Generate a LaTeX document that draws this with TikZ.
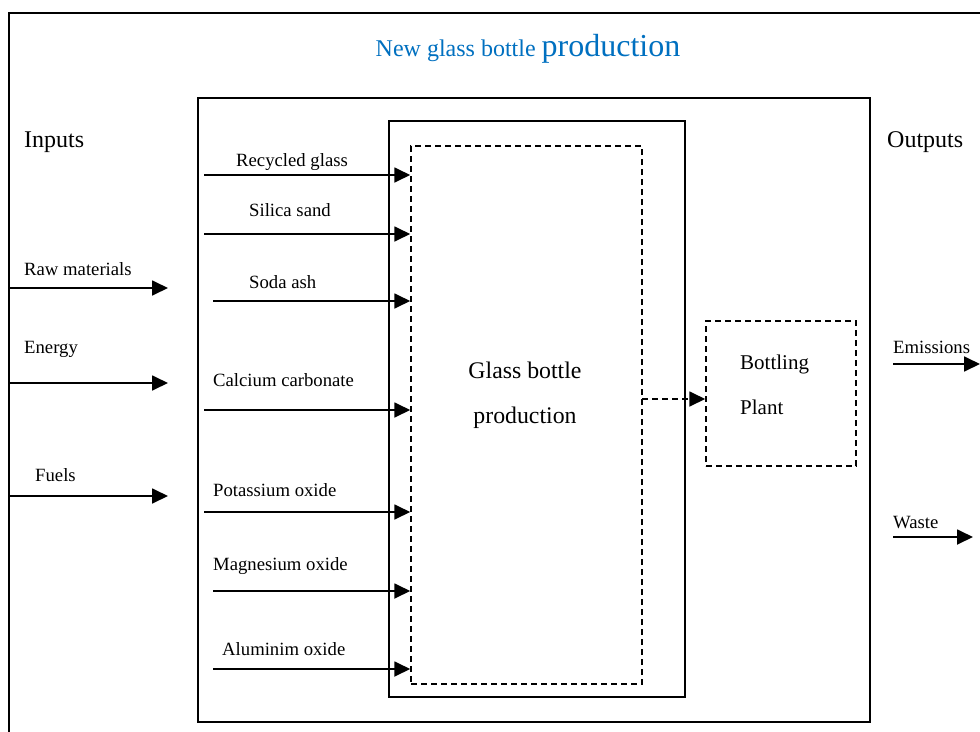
\documentclass[tikz,border=0pt]{standalone}
\usepackage{fontspec}
\setmainfont{Liberation Serif}
\usetikzlibrary{arrows.meta}
\definecolor{titleblue}{HTML}{0070C0}
\begin{document}
\begin{tikzpicture}[x=1pt,y=-1pt,
  frame/.style={draw,line width=1.6pt},
  dashbox/.style={draw,line width=1.5pt,dash pattern=on 6pt off 4pt},
  flow/.style={line width=1.8pt,-{Triangle[length=16pt,width=15pt]}},
  lbl/.style={anchor=base west,inner sep=0pt,font=\fontsize{18.7}{20}\selectfont},
  big/.style={anchor=base west,inner sep=0pt,font=\fontsize{24}{26}\selectfont}]
\useasboundingbox (0,0) rectangle (980,731);
\fill[white] (0,0) rectangle (980,731);
% outer frame (cropped)
\draw[line width=1.6pt] (9,735) -- (9,13) -- (985,13);
% title
\node[anchor=base,inner sep=0pt,text=titleblue] (title) at (528,56)
  {\fontsize{24}{26}\selectfont New glass bottle \fontsize{32}{34}\selectfont production};
% boxes
\node[frame,minimum width=672pt,minimum height=624pt,inner sep=0pt] (mid) at (534,410) {};
\node[frame,minimum width=296pt,minimum height=576pt,inner sep=0pt] (inner) at (537,409) {};
\node[dashbox,minimum width=231pt,minimum height=538pt,inner sep=0pt] (dbox) at (526.5,415) {};
\node[dashbox,minimum width=150pt,minimum height=145pt,inner sep=0pt] (bott) at (781,393.5) {};
% box texts
\node[anchor=base,inner sep=0pt,font=\fontsize{23.8}{26}\selectfont] (gb1) at (525,378) {Glass bottle};
\node[anchor=base,inner sep=0pt,font=\fontsize{23.8}{26}\selectfont] (gb2) at (525,423) {production};
\node[anchor=base west,inner sep=0pt,font=\fontsize{21}{23}\selectfont] (bp1) at (740,369) {Bottling};
\node[anchor=base west,inner sep=0pt,font=\fontsize{21}{23}\selectfont] (bp2) at (740,414) {Plant};
% dashed connector
\coordinate (dout) at (642,399);
\draw[flow,dash pattern=on 6pt off 4pt] (dout) -- (bott.west |- dout);
% inner inputs
\node[lbl] (l1) at (236,166) {Recycled glass};
\node[lbl] (l2) at (249,216) {Silica sand};
\node[lbl] (l3) at (249,288) {Soda ash};
\node[lbl] (l4) at (213,386) {Calcium carbonate};
\node[lbl] (l5) at (213,496) {Potassium oxide};
\node[lbl] (l6) at (213,570) {Magnesium oxide};
\node[lbl] (l7) at (222,655) {Aluminim oxide};
\coordinate (s1) at (204,175);
\coordinate (s2) at (204,234);
\coordinate (s3) at (213,301);
\coordinate (s4) at (204,410);
\coordinate (s5) at (204,512);
\coordinate (s6) at (213,591);
\coordinate (s7) at (213,669);
\foreach \i in {1,...,7}{\draw[flow] (s\i) -- (dbox.west |- s\i);}
% left inputs
\node[big] (inputs) at (24,147) {Inputs};
\node[lbl] (raw) at (24,275) {Raw materials};
\node[lbl] (energy) at (24,353) {Energy};
\node[lbl] (fuels) at (35,481) {Fuels};
\coordinate (a1s) at (9,288);  \coordinate (a1e) at (168,288);
\coordinate (a2s) at (9,383);  \coordinate (a2e) at (168,383);
\coordinate (a3s) at (9,496);  \coordinate (a3e) at (168,496);
\draw[flow] (a1s) -- (a1e);
\draw[flow] (a2s) -- (a2e);
\draw[flow] (a3s) -- (a3e);
% outputs
\node[big] (outputs) at (887,147) {Outputs};
\node[lbl] (emis) at (893,353) {Emissions};
\node[lbl] (waste) at (893,528) {Waste};
\coordinate (e1s) at (893,364); \coordinate (e1e) at (980,364);
\coordinate (e2s) at (893,537); \coordinate (e2e) at (973,537);
\draw[flow] (e1s) -- (e1e);
\draw[flow] (e2s) -- (e2e);
\end{tikzpicture}
\end{document}
